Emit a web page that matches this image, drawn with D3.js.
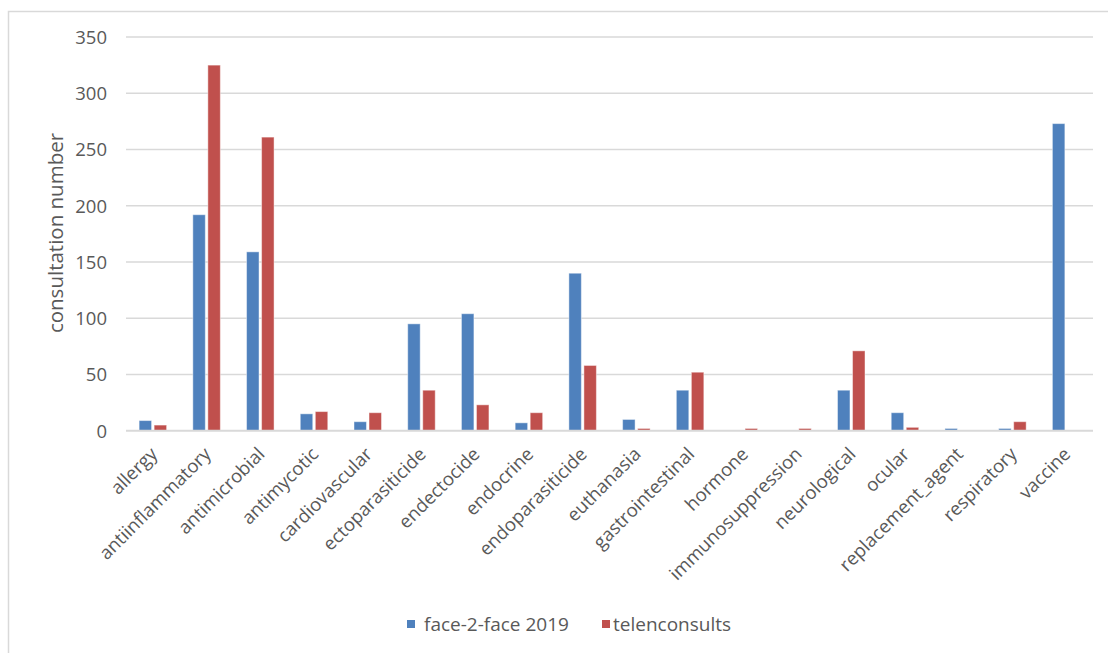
<!DOCTYPE html>
<html>
<head>
<meta charset="utf-8">
<script src="https://cdn.jsdelivr.net/npm/d3@7"></script>
<style>
  html, body { margin: 0; padding: 0; background: #ffffff; }
  svg { display: block; }
  text { font-family: "Open Sans", "Noto Sans", sans-serif; fill: #595959; }
</style>
</head>
<body>
<svg id="chart" width="1108" height="653"></svg>
<script>
// Drug categories on the x axis
const categories = [
  "allergy", "antiinflammatory", "antimicrobial", "antimycotic", "cardiovascular",
  "ectoparasiticide", "endectocide", "endocrine", "endoparasiticide", "euthanasia",
  "gastrointestinal", "hormone", "immunosuppression", "neurological", "ocular",
  "replacement_agent", "respiratory", "vaccine"
];

// Consultation counts per category
const faceToFace2019 = [9, 192, 159, 15, 8, 95, 104, 7, 140, 10, 36, 0, 0, 36, 16, 2, 2, 273];
const telenconsults  = [5, 325, 261, 17, 16, 36, 23, 16, 58, 2, 52, 2, 2, 71, 3, 0, 8, 0];

const seriesNames = ["face-2-face 2019", "telenconsults"];
const seriesColors = ["#4F81BD", "#C0504D"];
const yTicks = [0, 50, 100, 150, 200, 250, 300, 350];

const svg = d3.select("#chart");

// Chart area frame
svg.append("rect")
  .attr("x", 8.5).attr("y", 11.5)
  .attr("width", 1120).attr("height", 660)
  .attr("fill", "none").attr("stroke", "#d9d9d9").attr("stroke-width", 1.5);

const plot = { left: 126, right: 1093, top: 37, bottom: 430.7 };

const x0 = d3.scaleBand().domain(categories).range([plot.left, plot.right]).padding(0);
const groupWidth = 27.5;
const x1 = d3.scaleBand().domain(seriesNames).range([0, groupWidth]).paddingInner(0.17).paddingOuter(0);
const y = d3.scaleLinear().domain([0, 350]).range([plot.bottom, plot.top]);

// Horizontal gridlines
svg.append("g").selectAll("line")
  .data(yTicks.filter(t => t > 0))
  .join("line")
  .attr("x1", plot.left).attr("x2", plot.right)
  .attr("y1", d => y(d)).attr("y2", d => y(d))
  .attr("stroke", "#d9d9d9").attr("stroke-width", 1.5);

// Y axis tick labels
const yAxis = d3.axisLeft(y).tickValues(yTicks).tickSize(0).tickPadding(0);
const gy = svg.append("g").attr("transform", `translate(107,0)`).call(yAxis);
gy.select(".domain").remove();
gy.selectAll("text")
  .attr("font-size", 18.5)
  .attr("dy", "0.35em")
  .style("font-family", "'Open Sans', sans-serif")
  .attr("fill", "#595959");

// Y axis title
svg.append("text")
  .attr("transform", `translate(63,233) rotate(-90)`)
  .attr("text-anchor", "middle")
  .attr("font-size", 20.5)
  .text("consultation number");

// Bars
const rows = categories.map((c, i) => ({ cat: c, vals: [faceToFace2019[i], telenconsults[i]] }));
const groups = svg.append("g").selectAll("g")
  .data(rows)
  .join("g")
  .attr("transform", d => `translate(${x0(d.cat) + (x0.bandwidth() - groupWidth) / 2},0)`);

groups.selectAll("rect")
  .data(d => d.vals.map((v, k) => ({ series: seriesNames[k], value: v, color: seriesColors[k] })))
  .join("rect")
  .filter(d => d.value > 0)
  .attr("x", d => x1(d.series))
  .attr("width", x1.bandwidth())
  .attr("y", d => y(d.value))
  .attr("height", d => y(0) - y(d.value))
  .attr("fill", d => d.color)
  .attr("stroke", "rgba(255,255,255,0.45)")
  .attr("stroke-width", 1);

// X axis baseline
svg.append("line")
  .attr("x1", plot.left).attr("x2", plot.right)
  .attr("y1", plot.bottom).attr("y2", plot.bottom)
  .attr("stroke", "#d9d9d9").attr("stroke-width", 2);

// Category labels, rotated
const xAxis = d3.axisBottom(x0).tickSize(0).tickPadding(0);
const gx = svg.append("g").attr("transform", `translate(0,${plot.bottom})`).call(xAxis);
gx.select(".domain").remove();
gx.selectAll("text")
  .attr("font-size", 18.5)
  .style("font-family", "'Open Sans', sans-serif")
  .attr("fill", "#595959")
  .attr("text-anchor", "end")
  .attr("dy", "0.35em")
  .attr("transform", "translate(1,20) rotate(-45)");

// Legend
const legendPos = [{ box: 0, text: 17 }, { box: 195, text: 206 }];
const legend = svg.append("g").attr("transform", "translate(407,624)");
const legendItems = legend.selectAll("g")
  .data(seriesNames)
  .join("g");
legendItems.append("rect")
  .attr("x", (d, i) => legendPos[i].box).attr("y", -4).attr("width", 8).attr("height", 8)
  .attr("fill", (d, i) => seriesColors[i]);
legendItems.append("text")
  .attr("x", (d, i) => legendPos[i].text).attr("dy", "0.35em")
  .attr("font-size", 19)
  .text(d => d);
</script>
</body>
</html>
